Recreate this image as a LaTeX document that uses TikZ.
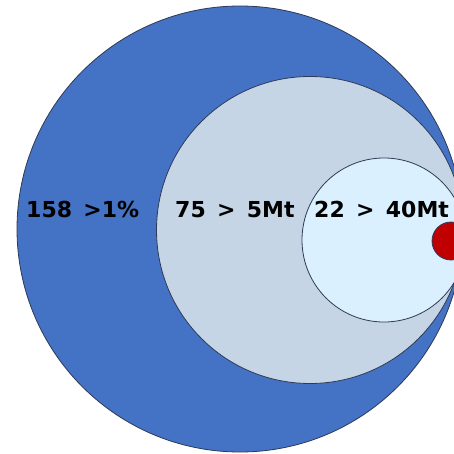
\documentclass[tikz,border=0pt]{standalone}
\usepackage{fontspec}
\setmainfont{DejaVu Sans}
\definecolor{bigblue}{HTML}{4472C4}
\definecolor{midblue}{HTML}{C5D5E6}
\definecolor{lightblue}{HTML}{DAF0FE}
\definecolor{redc}{HTML}{C00000}
\definecolor{edge}{HTML}{2E3A55}
\begin{document}
\begin{tikzpicture}[x=1pt,y=-1pt,
  ring/.style={circle,draw=edge,line width=0.8pt,inner sep=0pt},
  lbl/.style={font=\fontsize{22}{26}\selectfont\bfseries,text=black,anchor=base west,inner sep=0pt}]
\clip (0,0) rectangle (454,454);
\fill[white] (0,0) rectangle (454,454);
\node[ring,fill=bigblue,minimum size=446pt] (big) at (240,229) {};
\node[ring,fill=midblue,minimum size=307pt] (mid) at (310,230) {};
\node[ring,fill=lightblue,minimum size=164pt] (small) at (384,240) {};
\node[ring,fill=redc,minimum size=38pt] (dot) at (451,241) {};
\node[lbl] (t1) at (26,217) {158 \,>1\%};
\node[lbl] (t2) at (175,217) {75 \,> \,5Mt};
\node[lbl] (t3) at (314,217) {22 \,> \,40Mt};
\end{tikzpicture}
\end{document}
